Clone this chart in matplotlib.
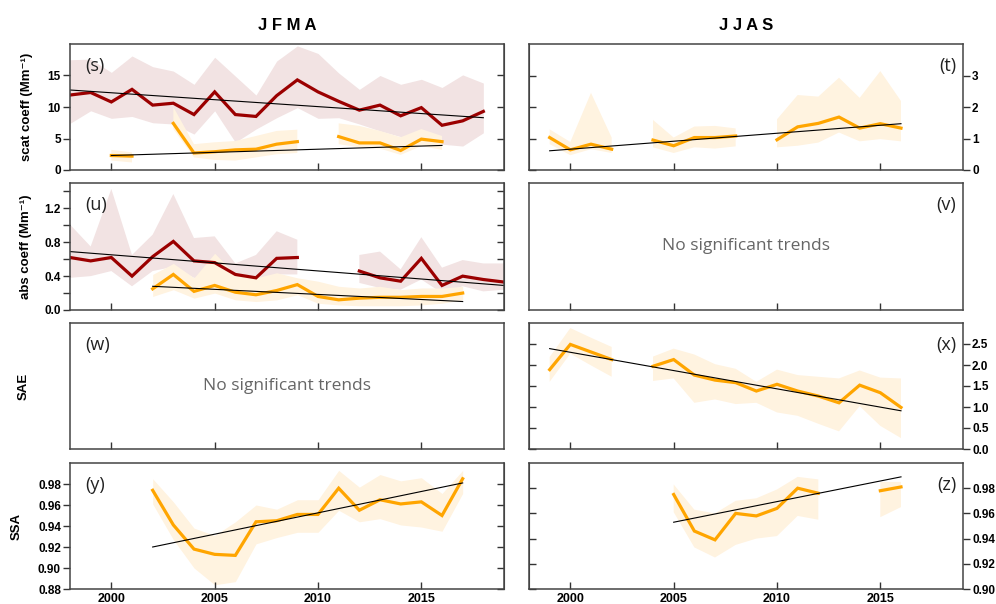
import numpy as np
import matplotlib
matplotlib.use("Agg")
import matplotlib.pyplot as plt

plt.rcParams['font.family'] = ['Liberation Sans', 'DejaVu Sans']

nan = np.nan

# colours
RED = '#9b0000'
RED_BAND = '#f2e3e3'
ORG = '#ffa500'
ORG_BAND = '#fff3e0'

# (s) JFMA scattering coefficient
s_years = list(range(1998, 2019))
s_red = [11.9, 12.3, 10.8, 12.8, 10.3, 10.6, 8.8, 12.4, 8.8, 8.5, 11.8,
         14.3, 12.4, 10.9, 9.5, 10.3, 8.6, 9.9, 7.1, 7.8, 9.3]
s_red_hi = [17.5, 17.6, 15.5, 18.1, 16.4, 15.7, 13.6, 17.9, 14.9, 11.9, 17.3,
            19.7, 18.5, 15.4, 12.8, 15.0, 13.6, 14.4, 13.1, 15.1, 13.8]
s_red_lo = [7.4, 9.4, 8.2, 8.5, 7.5, 7.3, 5.7, 9.4, 4.4, 6.5, 8.3,
            9.9, 8.2, 8.3, 7.3, 6.2, 5.3, 4.9, 4.1, 3.8, 5.9]
s_org = [nan, nan, 2.3, 2.2, nan, 7.4, 2.7, 2.9, 3.2, 3.3, 4.1,
         4.5, nan, 5.3, 4.3, 4.3, 3.1, 4.9, 4.5, nan, nan]
s_org_hi = [nan, nan, 3.2, 2.8, nan, 10.0, 4.1, 4.4, 4.6, 5.4, 6.2,
            6.4, nan, 7.4, 7.0, 6.2, 5.2, 6.5, 5.4, nan, nan]
s_org_lo = [nan, nan, 1.5, 1.2, nan, 6.5, 2.0, 1.6, 1.5, 2.0, 2.5,
            2.7, nan, 4.1, 3.6, 3.4, 2.4, 3.8, 3.2, nan, nan]
s_red_trend = ([1998, 2018], [12.7, 8.3])
s_org_trend = ([2000, 2016], [2.3, 3.9])

# (t) JJAS scattering coefficient
t_years = list(range(1999, 2017))
t_org = [1.03, 0.64, 0.82, 0.66, nan, 0.95, 0.77, 1.03, 1.03, 1.08,
         nan, 0.96, 1.37, 1.48, 1.68, 1.33, 1.47, 1.33]
t_org_hi = [1.29, 0.89, 2.45, 1.03, nan, 1.59, 1.03, 1.38, 1.40, 1.32,
            nan, 1.61, 2.38, 2.33, 2.93, 2.29, 3.14, 2.19]
t_org_lo = [0.82, 0.47, 0.66, 0.54, nan, 0.72, 0.54, 0.72, 0.68, 0.75,
            nan, 0.72, 0.77, 0.87, 1.19, 0.91, 0.98, 0.91]
t_org_trend = ([1999, 2016], [0.61, 1.47])

# (u) JFMA absorption coefficient
u_years = list(range(1998, 2020))
u_red = [0.62, 0.58, 0.62, 0.40, 0.63, 0.81, 0.58, 0.56, 0.42, 0.38, 0.61,
         0.62, nan, nan, 0.46, 0.38, 0.34, 0.61, 0.29, 0.40, 0.36, 0.33]
u_red_hi = [1.01, 0.75, 1.43, 0.65, 0.89, 1.37, 0.85, 0.87, 0.55, 0.65, 0.93,
            0.83, nan, nan, 0.65, 0.69, 0.48, 0.86, 0.50, 0.59, 0.55, 0.55]
u_red_lo = [0.38, 0.40, 0.46, 0.28, 0.46, 0.51, 0.38, 0.38, 0.26, 0.26, 0.42,
            0.42, nan, nan, 0.32, 0.26, 0.24, 0.36, 0.20, 0.28, 0.22, 0.24]
u_org = [nan, nan, nan, nan, 0.25, 0.42, 0.22, 0.29, 0.21, 0.18, 0.23,
         0.30, 0.16, 0.12, 0.14, 0.15, 0.15, 0.16, 0.16, 0.20, nan, nan]
u_org_hi = [nan, nan, nan, nan, 0.42, 0.55, 0.38, 0.67, 0.42, 0.38, 0.44,
            0.38, 0.34, 0.28, 0.26, 0.28, 0.24, 0.26, 0.26, 0.28, nan, nan]
u_org_lo = [nan, nan, nan, nan, 0.16, 0.24, 0.14, 0.20, 0.12, 0.10, 0.12,
            0.18, 0.08, 0.06, 0.05, 0.05, 0.05, 0.06, 0.08, 0.12, nan, nan]
u_red_trend = ([1998, 2019], [0.69, 0.29])
u_org_trend = ([2002, 2017], [0.28, 0.10])

# (x) JJAS SAE
x_years = list(range(1999, 2017))
x_org = [1.89, 2.49, 2.31, 2.13, nan, 1.97, 2.13, 1.76, 1.64, 1.58,
         1.38, 1.54, 1.38, 1.26, 1.10, 1.52, 1.34, 0.99]
x_org_hi = [2.19, 2.88, 2.65, 2.43, nan, 2.20, 2.39, 2.25, 2.02, 1.91,
            1.60, 1.89, 1.76, 1.72, 1.68, 1.87, 1.70, 1.68]
x_org_lo = [1.60, 2.27, 1.99, 1.72, nan, 1.62, 1.68, 1.10, 1.18, 1.07,
            1.10, 0.87, 0.79, 0.60, 0.42, 1.02, 0.55, 0.26]
x_org_trend = ([1999, 2016], [2.39, 0.91])

# (y) JFMA SSA
y_years = list(range(2002, 2018))
y_org = [0.974, 0.941, 0.918, 0.913, 0.912, 0.944, 0.945, 0.951,
         0.951, 0.976, 0.955, 0.965, 0.961, 0.963, 0.950, 0.985]
y_org_hi = [0.985, 0.963, 0.938, 0.931, 0.944, 0.960, 0.956, 0.965,
            0.965, 0.993, 0.977, 0.989, 0.983, 0.986, 0.971, 0.993]
y_org_lo = [0.961, 0.927, 0.900, 0.884, 0.887, 0.923, 0.929, 0.934,
            0.934, 0.955, 0.944, 0.947, 0.941, 0.939, 0.935, 0.971]
y_org_trend = ([2002, 2017], [0.920, 0.981])

# (z) JJAS SSA
z_years = list(range(2005, 2017))
z_org = [0.975, 0.946, 0.939, 0.960, 0.958, 0.964, 0.980, 0.976,
         nan, nan, 0.978, 0.981]
z_org_hi = [0.983, 0.963, 0.960, 0.970, 0.972, 0.979, 0.989, 0.987,
            nan, nan, 0.985, 0.985]
z_org_lo = [0.961, 0.933, 0.925, 0.935, 0.940, 0.942, 0.958, 0.955,
            nan, nan, 0.957, 0.965]
z_org_trend = ([2005, 2016], [0.953, 0.989])

x_ticks = [2000, 2005, 2010, 2015]

fig = plt.figure(figsize=(9.96, 6.04), dpi=100)

left_x, right_x, width = 70 / 996, 529 / 996, 434 / 996
rows = [(44, 170), (183, 310), (323, 449), (463, 589)]


def make_ax(col, row):
    top, bot = rows[row]
    x0 = left_x if col == 0 else right_x
    ax = fig.add_axes([x0, 1 - bot / 604, width, (bot - top) / 604])
    ax.set_xlim(1998, 2019)
    ax.set_xticks(x_ticks)
    ax.tick_params(axis='x', direction='in', length=5, width=1, color='#333333',
                   labelbottom=(row == 3), labelsize=9, pad=3)
    for lab in ax.get_xticklabels():
        lab.set_fontweight('bold')
    for sp in ax.spines.values():
        sp.set_color('#444444')
        sp.set_linewidth(1.1)
    return ax


def y_axis(ax, col, lim, ticks, labels=None):
    ax.set_ylim(*lim)
    ax.set_yticks(ticks)
    if labels is not None:
        ax.set_yticklabels(labels)
    other = 'right' if col == 0 else 'left'
    if col == 1:
        ax.yaxis.tick_right()
    ax.tick_params(axis='y', direction='out', length=5, width=1, color='#333333',
                   labelsize=8.5, pad=1.5)
    for lab in ax.get_yticklabels():
        lab.set_fontweight('bold')
    sec = ax.secondary_yaxis(other)
    sec.set_yticks(ticks)
    sec.tick_params(axis='y', direction='in', length=5, width=1, color='#333333',
                    labelleft=False, labelright=False)
    sec.spines[other].set_color('#444444')


def series(ax, yrs, mid, lo, hi, line_c, band_c):
    ax.fill_between(yrs, lo, hi, color=band_c, lw=0)
    ax.plot(yrs, mid, color=line_c, lw=2.3, solid_joinstyle='miter')


def trend(ax, tr):
    ax.plot(tr[0], tr[1], color='black', lw=0.8)


def panel_label(ax, txt, col):
    if col == 0:
        ax.text(0.035, 0.9, txt, transform=ax.transAxes, ha='left', va='top',
                fontsize=13, family=['Open Sans', 'DejaVu Sans'], color='#222222')
    else:
        ax.text(0.985, 0.9, txt, transform=ax.transAxes, ha='right', va='top',
                fontsize=13, family=['Open Sans', 'DejaVu Sans'], color='#222222')


def no_trend(ax):
    ax.text(0.5, 0.5, 'No significant trends', transform=ax.transAxes,
            ha='center', va='center', fontsize=12.5, color='#666666',
            family=['Open Sans', 'DejaVu Sans'])


# (s)
ax = make_ax(0, 0)
y_axis(ax, 0, (0, 20), [0, 5, 10, 15])
series(ax, s_years, s_red, s_red_lo, s_red_hi, RED, RED_BAND)
series(ax, s_years, s_org, s_org_lo, s_org_hi, ORG, ORG_BAND)
trend(ax, s_red_trend)
trend(ax, s_org_trend)
ax.set_ylabel('scat coeff (Mm⁻¹)', fontsize=9.5, fontweight='bold')
ax.yaxis.set_label_coords(-0.085, 0.5)
panel_label(ax, '(s)', 0)

# (t)
ax = make_ax(1, 0)
y_axis(ax, 1, (0, 4), [0, 1, 2, 3])
series(ax, t_years, t_org, t_org_lo, t_org_hi, ORG, ORG_BAND)
trend(ax, t_org_trend)
panel_label(ax, '(t)', 1)

# (u)
ax = make_ax(0, 1)
u_ticks = [0.0, 0.2, 0.4, 0.6, 0.8, 1.0, 1.2, 1.4]
u_labels = ['0.0', '', '0.4', '', '0.8', '', '1.2', '']
y_axis(ax, 0, (0, 1.5), u_ticks, u_labels)
series(ax, u_years, u_red, u_red_lo, u_red_hi, RED, RED_BAND)
series(ax, u_years, u_org, u_org_lo, u_org_hi, ORG, ORG_BAND)
trend(ax, u_red_trend)
trend(ax, u_org_trend)
ax.set_ylabel('abs coeff (Mm⁻¹)', fontsize=9.5, fontweight='bold')
ax.yaxis.set_label_coords(-0.0875, 0.5)
panel_label(ax, '(u)', 0)

# (v)
ax = make_ax(1, 1)
ax.set_yticks([])
no_trend(ax)
panel_label(ax, '(v)', 1)

# (w)
ax = make_ax(0, 2)
ax.set_yticks([])
no_trend(ax)
ax.set_ylabel('SAE', fontsize=9.5, fontweight='bold')
ax.yaxis.set_label_coords(-0.092, 0.5)
panel_label(ax, '(w)', 0)

# (x)
ax = make_ax(1, 2)
y_axis(ax, 1, (0, 3), [0.0, 0.5, 1.0, 1.5, 2.0, 2.5],
       ['0.0', '0.5', '1.0', '1.5', '2.0', '2.5'])
series(ax, x_years, x_org, x_org_lo, x_org_hi, ORG, ORG_BAND)
trend(ax, x_org_trend)
panel_label(ax, '(x)', 1)

# (y)
ax = make_ax(0, 3)
y_ticks = [0.88, 0.90, 0.92, 0.94, 0.96, 0.98]
y_axis(ax, 0, (0.88, 1.0), y_ticks, ['%.2f' % v for v in y_ticks])
series(ax, y_years, y_org, y_org_lo, y_org_hi, ORG, ORG_BAND)
trend(ax, y_org_trend)
ax.set_ylabel('SSA', fontsize=9.5, fontweight='bold')
ax.yaxis.set_label_coords(-0.11, 0.5)
panel_label(ax, '(y)', 0)

# (z)
ax = make_ax(1, 3)
z_ticks = [0.90, 0.92, 0.94, 0.96, 0.98]
y_axis(ax, 1, (0.90, 1.0), z_ticks, ['%.2f' % v for v in z_ticks])
series(ax, z_years, z_org, z_org_lo, z_org_hi, ORG, ORG_BAND)
trend(ax, z_org_trend)
panel_label(ax, '(z)', 1)

# column titles
fig.text(left_x + width / 2, 1 - 25 / 604, 'J F M A', ha='center', va='center',
         fontsize=12, fontweight='bold')
fig.text(right_x + width / 2, 1 - 25 / 604, 'J J A S', ha='center', va='center',
         fontsize=12, fontweight='bold')

fig.savefig('out.png', dpi=100)
